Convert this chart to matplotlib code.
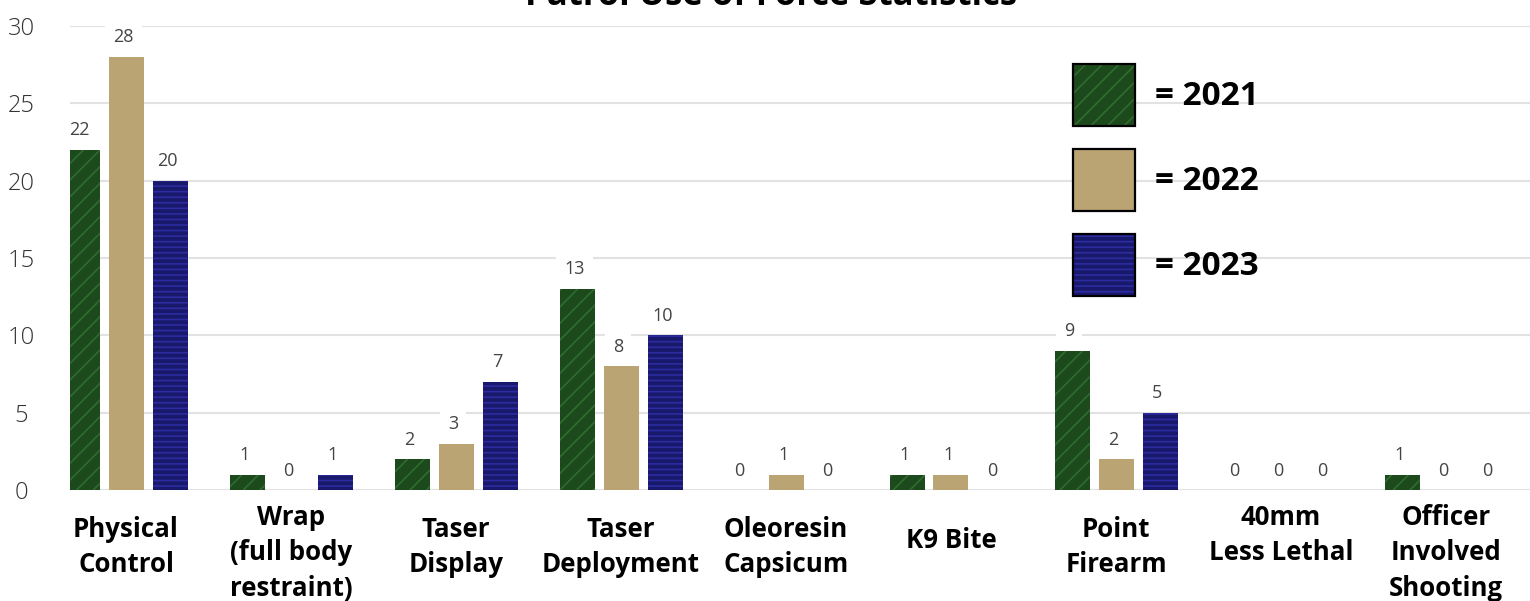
import matplotlib
matplotlib.use("Agg")
import matplotlib.pyplot as plt
import numpy as np
from matplotlib.patches import Patch
from matplotlib.transforms import blended_transform_factory

plt.rcParams['font.family'] = ['Open Sans', 'DejaVu Sans']
plt.rcParams['hatch.linewidth'] = 1.2

categories = ["Physical\nControl", "Wrap\n(full body\nrestraint)", "Taser\nDisplay",
              "Taser\nDeployment", "Oleoresin\nCapsicum", "K9 Bite", "Point\nFirearm",
              "40mm\nLess Lethal\n", "Officer\nInvolved\nShooting"]
years = ["2021", "2022", "2023"]
v2021 = [22, 1, 2, 13, 0, 1, 9, 0, 1]
v2022 = [28, 0, 3, 8, 1, 1, 2, 0, 0]
v2023 = [20, 1, 7, 10, 0, 0, 5, 0, 0]
yticks = [0, 5, 10, 15, 20, 25, 30]
title = "Patrol Use of Force Statistics"

series = [v2021, v2022, v2023]
face = ["#1c4a1c", "#bba473", "#19196c"]
hcol = ["#2f6c2f", "#bba473", "#2c2ca0"]
hatch = ["//", None, "---"]

W, H = 1530, 601
fig = plt.figure(figsize=(W/100, H/100), dpi=100)
ax = fig.add_axes([70/W, (H-490)/H, 1460/W, 464/H])

x = np.arange(len(categories))
bw = 35/165
step = 44/165
for i, vals in enumerate(series):
    xs = x + (i-1)*step
    ax.bar(xs, vals, bw, color=face[i], lw=0, zorder=2)
    if hatch[i]:
        ax.bar(xs, vals, bw, fill=False, hatch=hatch[i], edgecolor=hcol[i], lw=0, zorder=3)
    for xv, v in zip(xs, vals):
        ax.annotate(str(v), (xv, v), xytext=(-2, 14), textcoords='offset points',
                    ha='center', va='center', fontsize=13, color='#444444', zorder=4,
                    bbox=dict(boxstyle='square,pad=0.45', fc='white', ec='none'))

ax.set_xlim(-56/165, 1404/165)
ax.set_ylim(0, 30)
ax.set_yticks(yticks)
ax.set_yticklabels([str(t) for t in yticks], fontsize=17, color='#333333', fontweight='light')
for lab in ax.get_yticklabels():
    lab.set_horizontalalignment('center')
ax.tick_params(axis='y', length=0, pad=35)
ax.set_xticks([])
for s in ax.spines.values():
    s.set_visible(False)
ax.yaxis.grid(True, color='#e2e2e2', lw=1.5, zorder=0)
ax.set_axisbelow(True)

tr = blended_transform_factory(ax.transData, fig.transFigure)
for xi, lab in zip(x, categories):
    n = lab.count("\n") + 1
    cy = 535 + 6*n
    ax.text(xi, 1 - cy/H, lab, transform=tr, ha='center', va='center',
            multialignment='center', fontsize=18.6, fontweight='bold', color='black',
            linespacing=1.42, clip_on=False)

handles = []
for i in range(3):
    parts = [Patch(fc=face[i], ec='none', lw=0)]
    if hatch[i]:
        parts.append(Patch(fc='none', ec=hcol[i], hatch=hatch[i], lw=0))
    parts.append(Patch(fc='none', ec='black', lw=1.6))
    handles.append(tuple(parts))
fs = 24
fpx = fs/0.72
ax.legend(handles, ["= " + y for y in years], loc='upper left',
          bbox_to_anchor=(1073/W, 1 - 64/H), bbox_transform=fig.transFigure,
          frameon=False, borderpad=0, borderaxespad=0,
          prop={'size': fs, 'weight': 'bold'},
          handlelength=62/fpx, handleheight=(62/fpx - 0.245)/0.65,
          labelspacing=23/fpx, handletextpad=20/fpx)

fig.text(771/W, 1 - 5/H, title, ha='center', va='baseline', fontsize=25, fontweight='bold')

fig.savefig("out.png", dpi=100)
